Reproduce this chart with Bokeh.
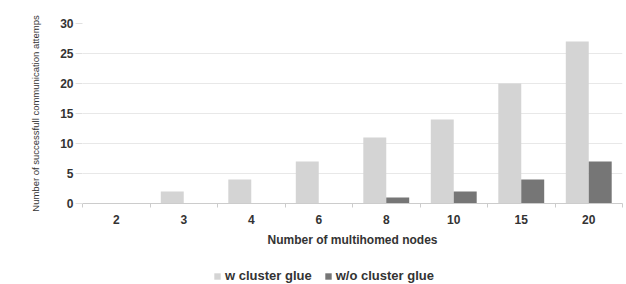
from bokeh.plotting import figure
from bokeh.models import ColumnDataSource, FixedTicker, Legend, LegendItem, Range1d
from bokeh.layouts import column
from bokeh.transform import dodge
from bokeh.embed import file_html
from bokeh.resources import INLINE

categories = ["2", "3", "4", "6", "8", "10", "15", "20"]
with_glue = [0, 2, 4, 7, 11, 14, 20, 27]
without_glue = [0, 0, 0, 0, 1, 2, 4, 7]
y_ticks = [0, 5, 10, 15, 20, 25, 30]
series_names = ["w cluster glue", "w/o cluster glue"]
series_colors = ["#d4d4d4", "#767676"]

centers = [i + 0.5 for i in range(len(categories))]
bounds = [i for i in range(len(categories) + 1)]

src = ColumnDataSource(dict(x=centers, w=with_glue, wo=without_glue))

FONT = "Liberation Sans"
p = figure(width=626, height=262, output_backend="svg", toolbar_location=None,
           x_range=Range1d(0, len(categories)), y_range=Range1d(0, 30),
           min_border_left=82, min_border_right=4, min_border_top=23, min_border_bottom=59)
p.outline_line_color = None
p.background_fill_color = "white"

bw = 0.34
p.vbar(x=dodge("x", -bw / 2, range=p.x_range), top="w", width=bw, source=src,
       fill_color=series_colors[0], line_color=None)
p.vbar(x=dodge("x", bw / 2, range=p.x_range), top="wo", width=bw, source=src,
       fill_color=series_colors[1], line_color=None)

p.xgrid.visible = False
p.ygrid.grid_line_color = "#e8e8e8"
p.ygrid.ticker = FixedTicker(ticks=y_ticks)

xa = p.xaxis[0]
xa.ticker = FixedTicker(ticks=centers, minor_ticks=bounds)
xa.major_label_overrides = {c: lab for c, lab in zip(centers, categories)}
xa.major_tick_line_color = None
xa.minor_tick_out = 4
xa.minor_tick_in = 0
xa.minor_tick_line_color = "#cccccc"
xa.axis_line_color = "#cccccc"
xa.axis_label = "Number of multihomed nodes"
xa.axis_label_text_font = FONT
xa.axis_label_text_font_size = "12px"
xa.axis_label_text_font_style = "bold"
xa.axis_label_text_color = "#333333"
xa.axis_label_standoff = 6
xa.major_label_text_font = FONT
xa.major_label_text_font_size = "12px"
xa.major_label_text_font_style = "bold"
xa.major_label_text_color = "#333333"
xa.major_label_standoff = 5

ya = p.yaxis[0]
ya.ticker = FixedTicker(ticks=y_ticks)
ya.axis_line_color = None
ya.major_tick_line_color = "#e0e0e0"
ya.major_tick_out = 7
ya.major_tick_in = 0
ya.minor_tick_line_color = None
ya.axis_label = "Number of successfull communication attemps"
ya.axis_label_text_font = FONT
ya.axis_label_text_font_size = "9.5px"
ya.axis_label_text_font_style = "normal"
ya.axis_label_text_color = "#333333"
ya.axis_label_standoff = 16
ya.major_label_text_font = FONT
ya.major_label_text_font_size = "12px"
ya.major_label_text_font_style = "bold"
ya.major_label_text_color = "#333333"
ya.major_label_standoff = 2

# legend strip (bars placed outside its visible range; only swatches show)
lg = figure(width=626, height=22, output_backend="svg", toolbar_location=None,
            x_range=Range1d(0, len(categories)), y_range=Range1d(100, 101), min_border=0,
            x_axis_location=None, y_axis_location=None)
lg.outline_line_color = None
lg.grid.visible = False
items = []
for name, col, field in zip(series_names, series_colors, ["w", "wo"]):
    r = lg.vbar(x="x", top=field, width=bw, source=src, fill_color=col, line_color=None)
    items.append(LegendItem(label=name, renderers=[r]))
legend = Legend(items=items, orientation="horizontal", location=(131, 1),
                label_text_font=FONT, label_text_font_size="13px",
                label_text_font_style="bold",
                label_text_color="#333333", glyph_width=8, glyph_height=8,
                label_standoff=4, spacing=12, border_line_color=None,
                background_fill_alpha=0, padding=2, margin=0, label_height=12)
lg.add_layout(legend, "center")

open("out.html", "w").write(file_html(column(p, lg, spacing=0), INLINE))
